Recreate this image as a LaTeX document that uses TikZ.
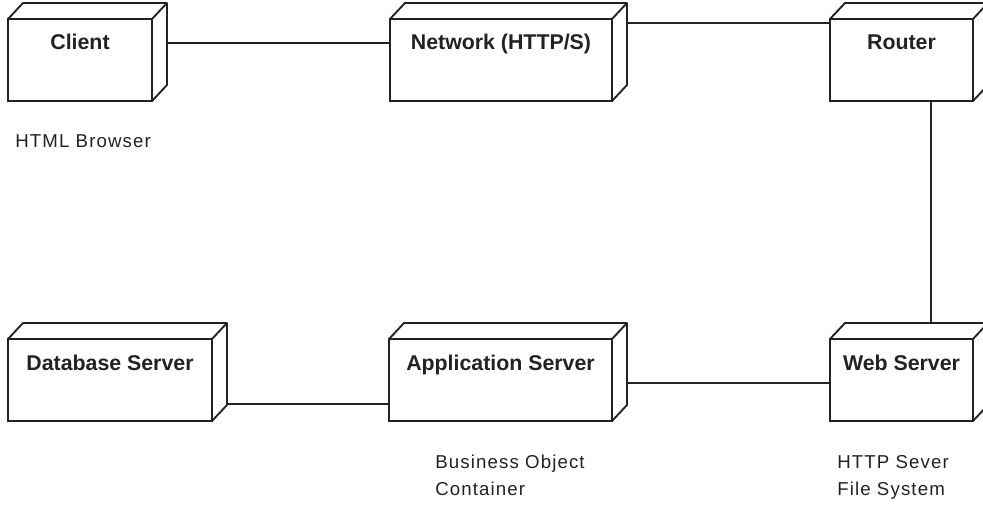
\documentclass[tikz,border=0pt]{standalone}
\usepackage{fontspec}
\setmainfont{Liberation Sans}
\definecolor{inkgray}{HTML}{222222}
\tikzset{
  device/.style={draw=inkgray, fill=white, line width=1.4pt, inner sep=0pt, outer sep=0pt,
    minimum width=#1, text height=23.25pt, text depth=38.25pt,
    font=\fontsize{16}{19}\selectfont\bfseries, text=inkgray},
  wire/.style={draw=inkgray, line width=1.1pt},
  note/.style={anchor=base west, inner sep=0pt, align=left, text=inkgray,
    font=\fontsize{14}{20.25}\selectfont\addfontfeatures{LetterSpace=6}},
}
\begin{document}
\begin{tikzpicture}[x=0.75pt,y=-0.75pt]
                \useasboundingbox (0,0) rectangle (983,506);
                % top row
                \node[device=108pt] (client) at (80,60) {Client};
                \node[device=166.5pt] (network) at (501,60) {Network (HTTP/S)};
                \node[device=107.25pt] (router) at (901.5,60) {Router};
                % bottom row
                \node[device=153pt] (dbserver) at (110,380) {Database Server};
                \node[device=167.25pt] (appserver) at (500.5,380) {Application Server};
                \node[device=107.25pt] (webserver) at (901.5,380) {Web Server};
                % depth of the boxes
                \foreach \n in {client,network,router,dbserver,appserver,webserver}
                    \draw[draw=inkgray, line width=1.4pt, line join=round]
                        (\n.north west) -- ++(15,-16) -- ([shift={(15,-16)}]\n.north east)
                        -- ([shift={(15,-16)}]\n.south east) -- (\n.south east)
                        (\n.north east) -- ++(15,-16);
                % links
                \draw[wire] ([shift={(15,-17)}]client.east) coordinate (cn) -- (cn -| network.west);
                \draw[wire] ([shift={(15,-37)}]network.east) coordinate (nr) -- (nr -| router.west);
                \draw[wire] ([shift={(29.5,0)}]router.south) -- ([shift={(29.5,-16)}]webserver.north);
                \draw[wire] ([shift={(15,3)}]appserver.east) coordinate (aw) -- (aw -| webserver.west);
                \draw[wire] ([shift={(15,24)}]dbserver.east) coordinate (da) -- (da -| appserver.west);
                % notes
                \node[note] (browsernote) at (15,148) {HTML Browser};
                \node[note] (appnote) at (435,495) {Business Object\\Container};
                \node[note] (webnote) at (837,495) {HTTP Sever\\File System};
            \end{tikzpicture}
\end{document}
